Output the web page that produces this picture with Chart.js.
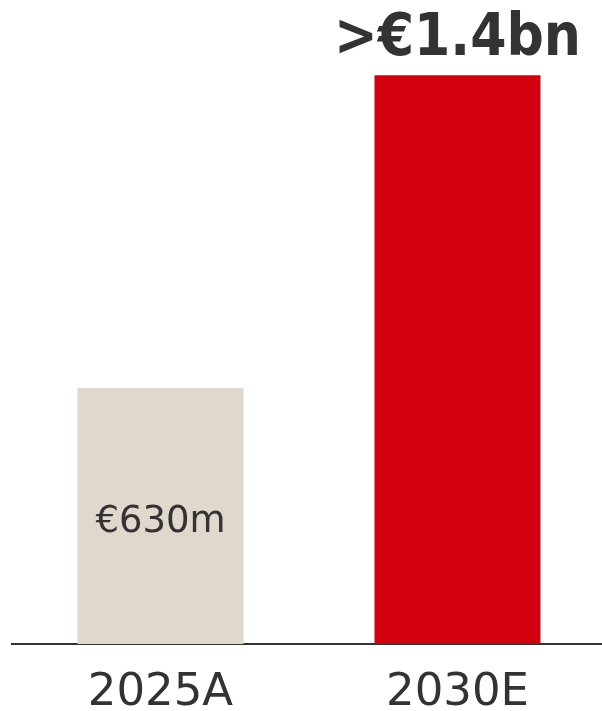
<!DOCTYPE html>
<html>
<head>
<meta charset="utf-8">
<script src="https://cdn.jsdelivr.net/npm/chart.js@4"></script>
<style>
  html, body { margin: 0; padding: 0; background: #ffffff; overflow: hidden; }
  #wrap { position: relative; width: 606px; height: 711px; }
</style>
</head>
<body>
<div id="wrap"><canvas id="chart" width="606" height="711"></canvas></div>
<script>
// Revenue, € million
const categories = ['2025A', '2030E'];
const revenue = [630, 1400];
const valueLabels = ['€630m', '>€1.4bn'];
const barColors = ['#e0d8cc', '#d3000f'];

const TEXT = '#333333';
const FONT = '"DejaVu Sans", sans-serif';
const FONT_HEAD = '"DejaVu Sans Condensed", "DejaVu Sans", sans-serif';

// Value labels: the actual figure sits inside its bar, the target sits above its bar
const valueLabelPlugin = {
  id: 'valueLabels',
  afterDatasetsDraw(chart) {
    const ctx = chart.ctx;
    const meta = chart.getDatasetMeta(0);
    meta.data.forEach((bar, i) => {
      ctx.save();
      ctx.fillStyle = TEXT;
      ctx.textAlign = 'center';
      ctx.textBaseline = 'alphabetic';
      if (i === 0) {
        ctx.font = '37px ' + FONT;
        ctx.fillText(valueLabels[i], bar.x, (bar.y + bar.base) / 2 + 16);
      } else {
        ctx.font = 'bold 58px ' + FONT_HEAD;
        ctx.fillText(valueLabels[i], bar.x, bar.y - 20);
      }
      ctx.restore();
    });
  }
};

new Chart(document.getElementById('chart'), {
  type: 'bar',
  data: {
    labels: categories,
    datasets: [{
      data: revenue,
      backgroundColor: barColors,
      borderWidth: 0,
      barPercentage: 1,
      categoryPercentage: 0.559
    }]
  },
  options: {
    responsive: false,
    animation: false,
    layout: { padding: { left: 12, right: 0, top: 0, bottom: 0 } },
    plugins: {
      legend: { display: false },
      tooltip: { enabled: false }
    },
    scales: {
      x: {
        grid: { display: false, drawTicks: false },
        border: { display: true, color: TEXT, width: 2 },
        ticks: {
          color: TEXT,
          font: { family: FONT, size: 45 },
          padding: 22
        },
        afterFit(scale) { scale.height = 67; }
      },
      y: {
        display: false,
        min: 0,
        max: 1585
      }
    }
  },
  plugins: [valueLabelPlugin]
});
</script>
</body>
</html>
